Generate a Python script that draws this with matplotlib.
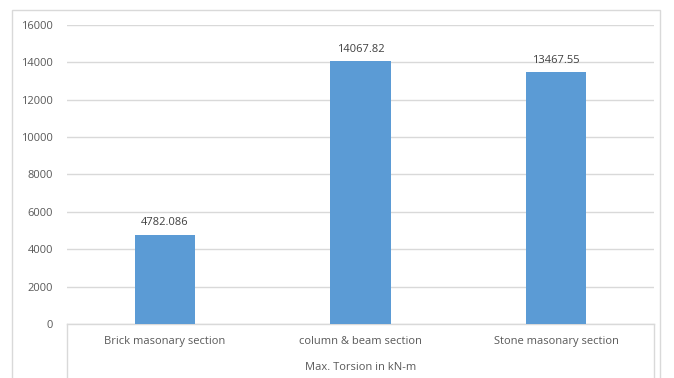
import matplotlib.pyplot as plt
from matplotlib.patches import Rectangle
from matplotlib.lines import Line2D

categories = ["Brick masonary section", "column & beam section", "Stone masonary section"]
torsion = [4782.086, 14067.82, 13467.55]
value_labels = ["4782.086", "14067.82", "13467.55"]
group_label = "Max. Torsion in kN-m"
y_ticks = [0, 2000, 4000, 6000, 8000, 10000, 12000, 14000, 16000]

plt.rcParams['font.family'] = ['Open Sans', 'DejaVu Sans']
text_color = "#595959"
grid_color = "#D9D9D9"

fig = plt.figure(figsize=(6.74, 3.78), dpi=100)
ax = fig.add_axes([67 / 674, 1 - 324 / 378, (654 - 67) / 674, (324 - 25) / 378])

x = range(len(categories))
bars = ax.bar(x, torsion, width=0.31, color="#5B9BD5", zorder=3)
for b, lab in zip(bars, value_labels):
    ax.annotate(lab, (b.get_x() + b.get_width() / 2, b.get_height()),
                xytext=(0, 4.5), textcoords="offset points",
                ha="center", va="bottom", fontsize=8, color="#404040")

ax.set_xlim(-0.5, 2.5)
ax.set_ylim(0, 16000)
ax.set_yticks(y_ticks)
ax.set_yticklabels([str(t) for t in y_ticks], fontsize=8, color=text_color)
ax.set_xticks(list(x))
ax.set_xticklabels(categories, fontsize=8, color=text_color)
ax.tick_params(axis="y", length=0, pad=10)
ax.tick_params(axis="x", length=0, pad=8.5)
ax.yaxis.grid(True, color=grid_color, linewidth=1, zorder=0)

for s in ["top", "right", "left"]:
    ax.spines[s].set_visible(False)
ax.spines["bottom"].set_color(grid_color)
ax.spines["bottom"].set_linewidth(1)

# second level of the category axis
ax.text(0.5, -0.145, group_label, transform=ax.transAxes, ha="center", va="center",
        fontsize=8, color=text_color)
for xe in [67 / 674, 654 / 674]:
    fig.add_artist(Line2D([xe, xe], [0, 1 - 324 / 378], color=grid_color, linewidth=1))

# chart border
fig.add_artist(Rectangle((12 / 674, -0.05), (660 - 12) / 674, 1.05 - 10 / 378,
                         fill=False, edgecolor=grid_color, linewidth=1))

fig.savefig("out.png", dpi=100)
